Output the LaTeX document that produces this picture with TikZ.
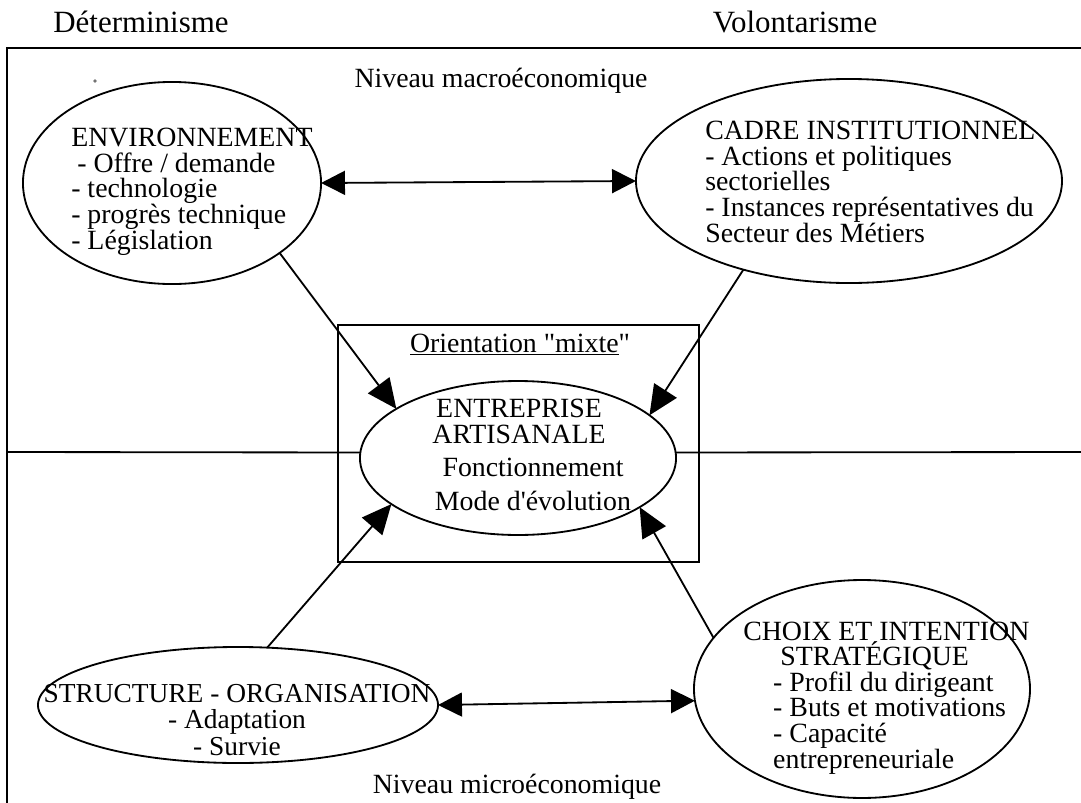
\documentclass[tikz,border=0pt]{standalone}
\usepackage{fontspec}
\setmainfont{Liberation Serif}[Ligatures=TeXOff]
\usepackage{tikz}
\usetikzlibrary{arrows.meta, shapes.geometric}
\newcommand{\corps}{\fontsize{19.8}{18.2}\selectfont\lineskiplimit=-30pt}
\newcommand{\titre}{\fontsize{22}{26}\selectfont}

\tikzset{
  bulle/.style={draw, ellipse, line width=1.3pt, inner sep=0pt, outer sep=0pt},
  texte/.style={inner sep=0pt, font=\corps},
  lien/.style={line width=1.3pt, -{Triangle[length=21pt, width=19pt]}},
  lienbi/.style={line width=1.3pt, {Triangle[length=17pt, width=17pt]}-{Triangle[length=17pt, width=17pt]}},
}

\begin{document}
\begin{tikzpicture}[x=0.025cm, y=-0.025cm]
  \useasboundingbox (0,0) rectangle (1081,803);

  \node[font=\titre, anchor=base] (determ) at (141,32) {Déterminisme};
  \node[font=\titre, anchor=base] (volont) at (795,32) {Volontarisme};
  \draw[line width=1.3pt] (7,803) -- (7,48) -- (1081,48);
  \fill[black!55] (95,81) circle (1.8);

  \node[texte, anchor=base] (macro) at (501,87) {Niveau macroéconomique};
  \node[texte, anchor=base] (micro) at (517,793) {Niveau microéconomique};

  \draw[line width=1.3pt] (338,325) rectangle (699,562);
  \node[texte, anchor=base] (orient) at (520,352) {\underline{Orientation "mixte}"};

  \node[bulle, minimum width=212pt, minimum height=143.7pt] (env) at (172,183) {};
  \node[bulle, minimum width=303pt, minimum height=145.1pt] (cadre) at (849,181) {};
  \node[bulle, minimum width=224.8pt, minimum height=109.5pt] (ent) at (518,458) {};
  \node[bulle, minimum width=284.5pt, minimum height=82.5pt] (struct) at (238,705) {};
  \node[bulle, minimum width=239pt, minimum height=155pt] (choix) at (862,689) {};

  \node[texte, align=left, anchor=base west] (envtxt) at (71,249)
    {ENVIRONNEMENT\\\hspace{4.3pt}- Offre / demande\\- technologie\\- progrès technique\\- Législation};
  \node[texte, align=left, anchor=base west] (cadretxt) at (705,242)
    {CADRE INSTITUTIONNEL\\- Actions et politiques\\sectorielles\\- Instances représentatives du\\Secteur des Métiers};
  \node[texte, align=center, anchor=base] (enttitre) at (519,443) {ENTREPRISE\\ARTISANALE};
  \node[texte, align=center, anchor=base, font=\fontsize{19.8}{23.5}\selectfont] (entcorps) at (533,510)
    {Fonctionnement\\Mode d'évolution};
  \node[texte, align=center, anchor=base, font=\fontsize{19.5}{18.5}\selectfont] (structtxt) at (237,755)
    {STRUCTURE - ORGANISATION\\- Adaptation\\- Survie};
  \node[texte, align=left, anchor=base west] (choixtxt) at (743,768)
    {CHOIX ET INTENTION\\\hspace{26.3pt}STRATÉGIQUE\\\hspace{21.3pt}- Profil du dirigeant\\\hspace{21.3pt}- Buts et motivations\\\hspace{21.3pt}- Capacité\\\hspace{21.3pt}entrepreneuriale};

  \draw[line width=1.3pt] (7,452) -- (ent.178);
  \draw[line width=1.3pt] (ent.2) -- (1081,452);

  \draw[lienbi] (env.east) -- (cadre.west);
  \draw[lienbi] (struct.east) -- (choix.-176);
  \draw[lien] (env.-33) -- (ent.158);
  \draw[lien] (cadre.-140) -- (ent.18);
  \draw[lien] (struct.63) -- (ent.-160);
  \draw[lien] (choix.161) -- (ent.-22);
\end{tikzpicture}
\end{document}
